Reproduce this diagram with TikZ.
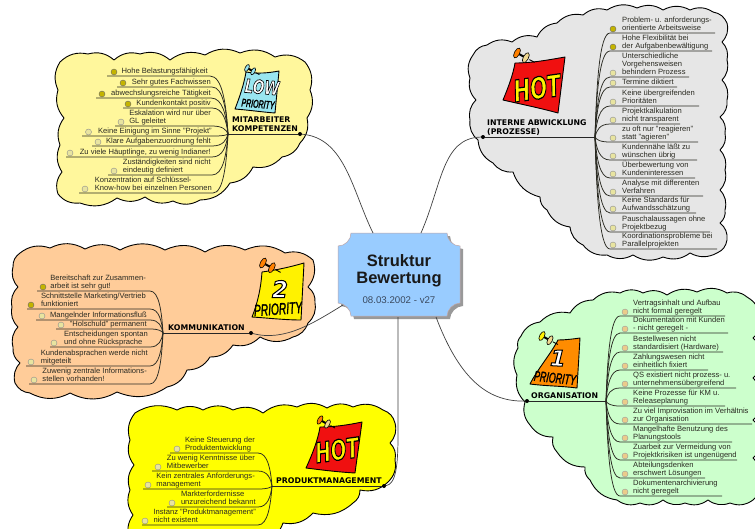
\documentclass[tikz,border=0pt]{standalone}
\usepackage{fontspec}
\setmainfont{Liberation Sans}
\newfontfamily\topicfont{DejaVu Sans}
\definecolor{cYellow}{HTML}{FFF79C}
\definecolor{cGray}{HTML}{E6E6E6}
\definecolor{cOrange}{HTML}{FFCC99}
\definecolor{cGreen}{HTML}{CCFFCC}
\definecolor{cBright}{HTML}{FFFF00}
\definecolor{cBlue}{HTML}{99CCFF}
\definecolor{cInk}{HTML}{2A2A22}
\definecolor{cRed}{HTML}{F01010}
\definecolor{cNote}{HTML}{99E6F0}
\definecolor{cTan}{HTML}{F0D890}
\definecolor{cPos}{HTML}{C4B400}
\definecolor{cNeg}{HTML}{E8E4A0}
\definecolor{cNegTan}{HTML}{EBCB8B}
\definecolor{cDate}{HTML}{3A4A60}
\tikzset{
  cloudshape/.style={draw=black,line width=0.9pt,line join=round},
  every to/.style={bend left=28},
  leafline/.style={draw=cInk,line width=0.75pt},
  branchline/.style={draw=black!75,line width=0.7pt},
  topicline/.style={draw=black!85,line width=1pt},
  hubdot/.style={circle,fill=black,inner sep=0pt,minimum size=4pt},
  leaftextR/.style={anchor=south west,inner sep=0pt,align=left,text=cInk,font=\fontsize{7.6}{8}\selectfont,text depth=1.6pt},
  leaftextL/.style={anchor=south east,inner sep=0pt,align=left,text=cInk,font=\fontsize{7.6}{8}\selectfont,text depth=1.6pt},
  topictext/.style={anchor=south west,inner sep=0pt,align=left,text=black,font=\topicfont\bfseries\fontsize{7.8}{8.8}\selectfont,text depth=1.4pt},
  iconpos/.style={circle,draw=black!60,fill=cPos,inner sep=0pt,minimum size=6pt,line width=0.4pt},
  iconneg/.style={circle,draw=black!45,fill=cNeg,inner sep=0pt,minimum size=6pt,line width=0.4pt},
  icontan/.style={circle,draw=black!40,fill=cNegTan,inner sep=0pt,minimum size=6pt,line width=0.4pt},
  notepaper/.style={draw=black,line width=0.9pt,line join=round},
  stickertext/.style={inner sep=0pt,font=\topicfont\bfseries\itshape},
  stickersmall/.style={inner sep=0pt,font=\itshape},
}
% #1 name, #2 underline end near the hub, #3 far end, #4 y, #5 text x, #6 icon x, #7 icon style, #8 text
\newcommand\leafitem[8]{%
  \coordinate (#1n) at (#2,#4);
  \coordinate (#1f) at (#3,#4);
  \node[#7] (#1i) at (#6,#4-4) {};
  \node[\lstyle] (#1t) at (#5,#4-0.6) {#8};
  \draw[leafline] (\hname) .. controls ({\hx-0.1*(\hx-#2)},{\hy+(#4-\hy)*0.5}) and ({#2+0.7*(\hx-#2)},#4) .. (#1n) -- (#1f);
}
\newcommand\outlined[3]{{\color{#1}\special{pdf:code 2 Tr #2 w 0 0 0 RG}#3\special{pdf:code 0 Tr 1 w}}}
\newcommand\pins[5]{% x y scale fill fill2
  \begin{scope}[shift={(#1,#2)},scale=#3,rotate=-28]
  \draw[line width=2pt] (2,0) -- (11,0);
  \draw[fill=#4,line width=0.6pt] (0,0) ellipse (2.6pt and 5.5pt);
  \draw[fill=#5,line width=0.6pt] (10,0) ellipse (2.6pt and 5.5pt);
  \draw[line width=0.9pt] (14,0) -- (20,0);
  \end{scope}
}
\begin{document}
\begin{tikzpicture}[x=1pt,y=-1pt]
\useasboundingbox (0,0) rectangle (755,528);
\clip (0,0) rectangle (755,528);
\fill[white] (0,0) rectangle (755,528);

% ---- clouds
\newcommand\cloudA{(60,62) to (88,54) to (114,60) to (140,54) to (170,60) to (205,55) to (240,53) to (275,57) to (305,62) to (310,90) to (307,118) to (300,143) to (282,157) to (253,167) to (230,183) to (200,200) to (173,201) to (145,197) to (117,198) to (80,203) to (58,194) to (62,172) to (60,145) to (64,118) to (58,90) to (60,62) -- cycle}
\fill[cYellow] \cloudA;
\draw[cloudshape] \cloudA;

\newcommand\cloudB{(473,55) to (487,45) to (512,42) to (537,37) to (557,23) to (583,15) to (607,10) to (637,8) to (663,10) to (690,10) to (713,12) to (727,23) to (722,42) to (727,60) to (722,80) to (727,100) to (720,117) to (725,133) to (720,150) to (725,170) to (720,190) to (725,210) to (720,223) to (727,240) to (717,253) to (690,253) to (663,257) to (633,255) to (607,255) to (583,245) to (570,227) to (547,210) to (540,197) to (513,172) to (493,163) to (478,140) to (470,120) to (476,100) to (470,78) to (473,55) -- cycle}
\fill[cGray] \cloudB;
\draw[cloudshape] \cloudB;

\newcommand\cloudC{(20,253) to (50,248) to (85,249) to (120,250) to (165,250) to (205,252) to (245,250) to (285,253) to (313,260) to (308,287) to (315,303) to (308,323) to (293,337) to (260,337) to (233,345) to (210,357) to (187,370) to (167,387) to (117,392) to (70,393) to (30,393) to (15,383) to (20,363) to (13,347) to (18,327) to (12,307) to (18,287) to (13,267) to (20,253) -- cycle}
\fill[cOrange] \cloudC;
\draw[cloudshape] \cloudC;

\newcommand\cloudD{(518,348) to (521,336) to (540,322) to (570,313) to (593,300) to (620,293) to (643,293) to (667,295) to (697,292) to (727,293) to (747,297) to (760,318) to (753,338) to (760,358) to (753,378) to (760,400) to (753,420) to (760,440) to (753,458) to (760,480) to (753,500) to (730,503) to (708,500) to (685,503) to (663,500) to (640,503) to (617,500) to (590,480) to (585,467) to (557,452) to (553,437) to (530,425) to (525,402) to (517,375) to (518,348) -- cycle}
\fill[cGreen] \cloudD;
\draw[cloudshape] \cloudD;

\newcommand\cloudE{(135,413) to (177,410) to (203,410) to (233,410) to (263,413) to (297,407) to (327,408) to (353,407) to (383,410) to (395,423) to (390,443) to (395,460) to (388,482) to (360,490) to (353,503) to (313,513) to (283,523) to (265,540) to (200,545) to (130,540) to (133,515) to (130,490) to (134,465) to (130,440) to (135,413) -- cycle}
\fill[cBright] \cloudE;
\draw[cloudshape] \cloudE;

% ---- central topic
\newcommand\rootshape{(351,233) -- (447,233) .. controls (447,240) and (453,246) .. (460,246) -- (460,303) .. controls (453,303) and (447,310) .. (447,316) -- (351,316) .. controls (351,310) and (345,303) .. (338,303) -- (338,246) .. controls (345,246) and (351,240) .. (351,233) -- cycle}
\fill[black!40,shift={(3,3)}] \rootshape;
\fill[cBlue] \rootshape;
\draw[red!30!black!35,line width=0.5pt] \rootshape;
\node[inner sep=0pt,minimum width=122pt,minimum height=83pt] (root) at (399,274.5) {};
\node[inner sep=0pt,align=center,font=\bfseries\fontsize{16.5}{17}\selectfont,text=black!90] (rootlabel) at (399,271) {Struktur\\Bewertung};
\node[inner sep=0pt,font=\fontsize{9.7}{11}\selectfont,text=cDate] (rootdate) at (399,300) {08.03.2002 - v27};

% ---- main branches
\node[hubdot] (dotA) at (300,134) {};
\node[hubdot] (dotB) at (483,137) {};
\node[hubdot] (dotC) at (251,333) {};
\node[hubdot] (dotD) at (527,401) {};
\node[hubdot] (dotE) at (384,486) {};
\coordinate (rootA) at (373,233);
\coordinate (rootB) at (421,233);
\coordinate (rootC) at (343,305);
\coordinate (rootD) at (436,317);
\coordinate (rootE) at (398,317);
\draw[branchline] (dotA) .. controls (345,138) and (352,190) .. (rootA);
\draw[branchline] (dotB) .. controls (442,138) and (442,185) .. (rootB);
\draw[branchline] (dotC) .. controls (285,342) and (315,322) .. (rootC);
\draw[branchline] (dotD) .. controls (485,402) and (458,375) .. (rootD);
\draw[branchline] (dotE) .. controls (396,484) and (398,465) .. (398,435) -- (rootE);

% ---- cluster A
\coordinate (hubA) at (228,134);
\draw[topicline] (hubA) -- (dotA);
\node[topictext] (topicA) at (232,133) {MITARBEITER\\KOMPETENZEN};
\def\hname{hubA}\def\hx{228}\def\hy{134}\def\lstyle{leaftextL}
\leafitem{a1}{210}{107}{76}{208}{114}{iconpos}{Hohe Belastungsfähigkeit}
\leafitem{a2}{212}{117}{87}{211}{123}{iconpos}{Sehr gutes Fachwissen}
\leafitem{a3}{211}{96}{98}{211}{102}{iconpos}{abwechslungsreiche Tätigkeit}
\leafitem{a4}{212}{123}{108}{211}{128}{iconpos}{Kundenkontakt positiv}
\leafitem{a5}{212}{115}{126}{211}{121}{iconneg}{Eskalation wird nur über\\GL geleitet}
\leafitem{a6}{214}{82}{136}{212}{88.5}{iconneg}{Keine Einigung im Sinne "Projekt"}
\leafitem{a7}{212}{92}{146}{211}{98}{iconneg}{Klare Aufgabenzuordnung fehlt}
\leafitem{a8}{212}{66}{157}{211}{70}{iconneg}{Zu viele Häuptlinge, zu wenig Indianer!}
\leafitem{a9}{212}{108}{175}{211}{114}{iconneg}{Zuständigkeiten sind nicht\\eindeutig definiert}
\leafitem{a10}{213}{79}{193}{212}{85}{iconneg}{Konzentration auf Schlüssel-\\Know-how bei einzelnen Personen}

% ---- cluster B
\coordinate (hubB) at (595,137);
\draw[topicline] (dotB) -- (hubB);
\node[topictext] (topicB) at (487,136) {INTERNE ABWICKLUNG\\(PROZESSE)};
\def\hname{hubB}\def\hx{595}\def\hy{137}\def\lstyle{leaftextR}
\leafitem{b1}{610}{715}{33}{622}{613}{iconpos}{Problem- u. anforderungs-\\orientierte Arbeitsweise}
\leafitem{b2}{610}{712}{51}{622}{613}{iconpos}{Hohe Flexibilität bei\\der Aufgabenbewältigung}
\leafitem{b3}{610}{689}{77}{622}{613}{iconneg}{Unterschiedliche\\Vorgehensweisen\\behindern Prozess}
\leafitem{b4}{610}{677}{87}{622}{613}{iconneg}{Termine diktiert}
\leafitem{b5}{610}{699}{106}{622}{613}{iconneg}{Keine übergreifenden\\Prioritäten}
\leafitem{b6}{610}{680}{124}{622}{613}{iconneg}{Projektkalkulation\\nicht transparent}
\leafitem{b7}{610}{698}{142}{622}{613}{iconneg}{zu oft nur "reagieren"\\statt "agieren"}
\leafitem{b8}{610}{697}{160}{622}{613}{iconneg}{Kundennähe läßt zu\\wünschen übrig}
\leafitem{b9}{610}{695}{178}{622}{613}{iconneg}{Überbewertung von\\Kundeninteressen}
\leafitem{b10}{610}{703}{196}{622}{613}{iconneg}{Analyse mit differenten\\Verfahren}
\leafitem{b11}{610}{696}{213}{622}{613}{iconneg}{Keine Standards für\\Aufwandsschätzung}
\leafitem{b12}{610}{710}{232}{622}{613}{iconneg}{Pauschalaussagen ohne\\Projektbezug}
\leafitem{b13}{610}{717}{249}{622}{613}{iconneg}{Koordinationsprobleme bei\\Parallelprojekten}

% ---- cluster C
\coordinate (hubC) at (163,333);
\draw[topicline] (hubC) -- (dotC);
\node[topictext] (topicC) at (168,332) {KOMMUNIKATION};
\def\hname{hubC}\def\hx{163}\def\hy{333}\def\lstyle{leaftextL}
\leafitem{c1}{150}{37}{291}{146}{43}{iconpos}{Bereitschaft zur Zusammen-\\arbeit ist sehr gut!}
\leafitem{c2}{150}{27}{309}{146}{31}{iconpos}{Schnittstelle Marketing/Vertrieb\\funktioniert}
\leafitem{c3}{150}{36}{320}{147}{42}{iconneg}{Mangelnder Informationsfluß}
\leafitem{c4}{150}{56}{329}{147}{61}{iconneg}{"Holschuld" permanent}
\leafitem{c5}{150}{50}{347}{148}{54}{iconneg}{Entscheidungen spontan\\und ohne Rücksprache}
\leafitem{c6}{150}{26}{366}{148}{31}{iconneg}{Kundenabsprachen werde nicht\\mitgeteilt}
\leafitem{c7}{150}{29}{384}{147}{34}{iconneg}{Zuwenig zentrale Informations-\\stellen vorhanden!}

% ---- cluster D
\coordinate (hubD) at (606,401);
\draw[topicline] (dotD) -- (hubD);
\node[topictext] (topicD) at (531,400) {ORGANISATION};
\def\hname{hubD}\def\hx{606}\def\hy{401}\def\lstyle{leaftextR}
\leafitem{d1}{620}{725}{316}{633}{625}{icontan}{Vertragsinhalt und Aufbau\\nicht formal geregelt}
\leafitem{d2}{620}{728}{333}{633}{625}{icontan}{Dokumentation mit Kunden\\- nicht geregelt -}
\leafitem{d3}{620}{723}{352}{633}{625}{icontan}{Bestellwesen nicht\\standardisiert (Hardware)}
\leafitem{d4}{620}{708}{370}{633}{625}{icontan}{Zahlungswesen nicht\\einheitlich fixiert}
\leafitem{d5}{620}{736}{388}{633}{625}{icontan}{QS existiert nicht prozess- u.\\unternehmensübergreifend}
\leafitem{d6}{620}{725}{406}{633}{625}{icontan}{Keine Prozesse für KM u.\\Releaseplanung}
\leafitem{d7}{620}{752}{424}{633}{625}{icontan}{Zu viel Improvisation im Verhältnis\\zur Organisation}
\leafitem{d8}{620}{732}{442}{633}{625}{icontan}{Mangelhafte Benutzung des\\Planungstools}
\leafitem{d9}{620}{737}{460}{633}{625}{icontan}{Zuarbeit zur Vermeidung von\\Projektkrisiken ist ungenügend}
\leafitem{d10}{620}{705}{478}{633}{625}{icontan}{Abteilungsdenken\\erschwert Lösungen}
\leafitem{d11}{620}{722}{496}{633}{625}{icontan}{Dokumentenarchivierung\\nicht geregelt}

% ---- cluster E
\coordinate (hubE) at (272,486);
\draw[topicline] (hubE) -- (dotE);
\node[topictext] (topicE) at (276,485) {PRODUKTMANAGEMENT};
\def\hname{hubE}\def\hx{272}\def\hy{486}\def\lstyle{leaftextL}
\leafitem{e1}{258}{170}{453}{255}{177}{iconneg}{Keine Steuerung der\\Produktentwicklung}
\leafitem{e2}{258}{152}{471}{255}{158}{iconneg}{Zu wenig Kenntnisse über\\Mitbewerber}
\leafitem{e3}{258}{143}{489}{255}{148}{iconneg}{Kein zentrales Anforderungs-\\management}
\leafitem{e4}{258}{167}{507}{256}{172}{iconneg}{Markterfordernisse\\unzureichend bekannt}
\leafitem{e5}{258}{142}{525}{256}{145}{iconneg}{Instanz "Produktmanagement"\\nicht existent}

% ---- stickers
% LOW
\draw[notepaper,fill=cNote] (246,72) .. controls (258,74) and (268,73) .. (279,71) -- (275,113) .. controls (262,112) and (248,110) .. (235,109) .. controls (240,96) and (244,84) .. (246,72) -- cycle;
\pins{247}{68}{0.7}{cNote}{cNote}
\node[stickertext,rotate=-5] (lowA) at (262,87) {\scalebox{1}[1.4]{\fontsize{13.5}{14}\selectfont\outlined{white}{0.5}{LOW}}};
\node[stickersmall,rotate=-5] (lowB) at (258,104) {\scalebox{1}[1.6]{\fontsize{7}{7}\selectfont\outlined{black}{0.2}{PRIORITY}}};
% HOT grey
\draw[notepaper,fill=cRed] (515,63) .. controls (532,63) and (548,60) .. (565,57) -- (558,113) .. controls (540,108) and (520,104) .. (503,100) .. controls (508,88) and (513,75) .. (515,63) -- cycle;
\pins{517}{53}{1}{orange}{cTan}
\node[stickertext,rotate=8] (hotA) at (537,88) {\scalebox{1}[1.5]{\fontsize{20}{21}\selectfont\outlined{yellow}{0.8}{HOT}}};
% 2 priority
\draw[notepaper,fill=yellow] (262,272) .. controls (277,270) and (290,267) .. (304,263) -- (301,320) .. controls (285,320) and (268,318) .. (252,317) .. controls (258,302) and (261,287) .. (262,272) -- cycle;
\pins{263}{263}{1}{orange}{orange}
\node[stickertext] (twoA) at (280,289) {\fontsize{23}{24}\selectfont\outlined{white}{1}{2}};
\node[stickersmall,rotate=4] (twoB) at (278,309) {\scalebox{1}[1.6]{\fontsize{10.2}{10}\selectfont\outlined{black}{0.2}{PRIORITY}}};
% HOT bright yellow
\draw[notepaper,fill=cRed] (320,427) .. controls (334,427) and (348,425) .. (362,422) -- (355,473) .. controls (338,472) and (322,470) .. (306,468) .. controls (312,455) and (318,440) .. (320,427) -- cycle;
\pins{320}{420}{0.85}{orange}{cTan}
\node[stickertext,rotate=8] (hotB) at (337,450) {\scalebox{1}[1.5]{\fontsize{18.5}{20}\selectfont\outlined{yellow}{0.8}{HOT}}};
% 1 priority
\draw[notepaper,fill=orange!90!yellow] (558,340) .. controls (565,340) and (573,339) .. (580,338) -- (577,388) .. controls (562,386) and (545,386) .. (530,384) .. controls (537,370) and (550,355) .. (558,340) -- cycle;
\pins{542}{336}{0.9}{yellow}{cTan}
\node[stickertext,rotate=-3] (oneA) at (558,358) {\fontsize{22}{23}\selectfont\outlined{white}{1}{1}};
\node[stickersmall,rotate=-6] (oneB) at (555,378) {\scalebox{1}[1.6]{\fontsize{8.9}{9}\selectfont\outlined{black}{0.2}{PRIORITY}}};
\end{tikzpicture}
\end{document}
